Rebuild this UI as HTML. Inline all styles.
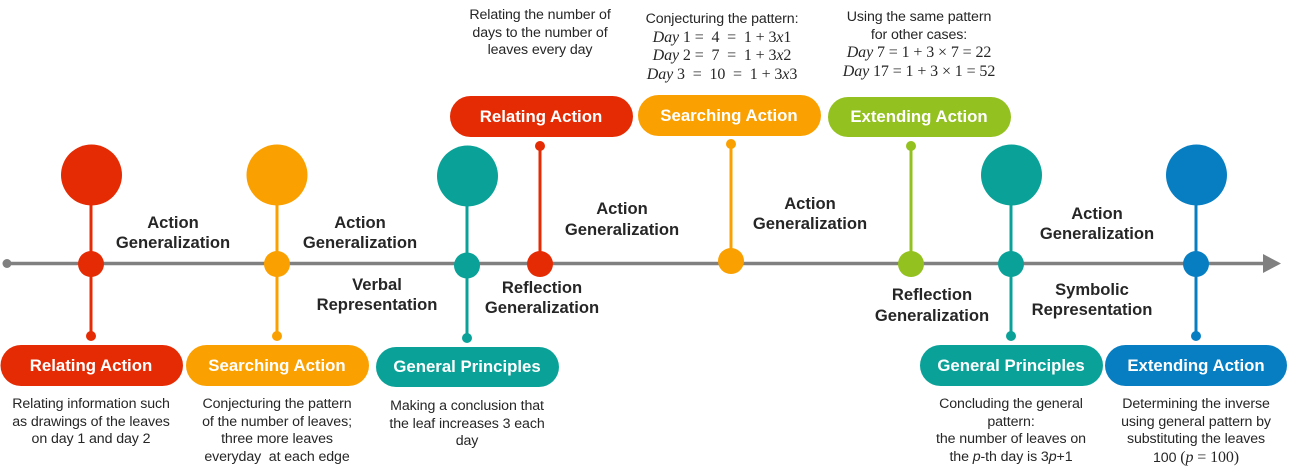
<!DOCTYPE html>
<html>
<head>
<meta charset="utf-8">
<style>
  html,body{margin:0;padding:0;background:#fff;}
  body{width:1299px;height:472px;position:relative;overflow:hidden;font-family:"Liberation Sans",Arial,sans-serif;}
  svg{position:absolute;left:0;top:0;}
  .t{position:absolute;text-align:center;white-space:nowrap;}
  .b{font-weight:bold;font-size:16.6px;line-height:20px;color:#262626;width:200px;}
  .d{font-size:14.2px;line-height:17.5px;color:#262626;width:200px;letter-spacing:-0.1px;}
  .p{font-weight:bold;font-size:16.8px;color:#fff;width:190px;line-height:41px;}
  .m{font-family:"Liberation Serif",serif;font-size:16px;}
  .m i{font-style:italic;}
</style>
</head>
<body>
<svg width="1299" height="472" viewBox="0 0 1299 472">
  <!-- timeline -->
  <line x1="7" y1="263.5" x2="1266" y2="263.5" stroke="#808080" stroke-width="3.5"/>
  <circle cx="7" cy="263.5" r="4.5" fill="#808080"/>
  <polygon points="1263,254 1281,263.5 1263,273" fill="#808080"/>

  <!-- 1 red below -->
  <line x1="91" y1="175" x2="91" y2="336" stroke="#E52B04" stroke-width="3"/>
  <circle cx="91.5" cy="175" r="30.5" fill="#E52B04"/>
  <circle cx="91" cy="264" r="13" fill="#E52B04"/>
  <circle cx="91" cy="336" r="5" fill="#E52B04"/>
  <rect x="0.5" y="345" width="182.5" height="41" rx="20.5" fill="#E52B04"/>

  <!-- 2 orange below -->
  <line x1="277" y1="175" x2="277" y2="336" stroke="#FAA000" stroke-width="3"/>
  <circle cx="277" cy="175" r="30.5" fill="#FAA000"/>
  <circle cx="277" cy="264" r="13" fill="#FAA000"/>
  <circle cx="277" cy="336" r="5" fill="#FAA000"/>
  <rect x="186" y="345" width="183" height="41" rx="20.5" fill="#FAA000"/>

  <!-- 3 teal below -->
  <line x1="467" y1="176" x2="467" y2="338" stroke="#0AA298" stroke-width="3"/>
  <circle cx="467.5" cy="176" r="30.5" fill="#0AA298"/>
  <circle cx="467" cy="265.5" r="13" fill="#0AA298"/>
  <circle cx="467" cy="338" r="5" fill="#0AA298"/>
  <rect x="376" y="347" width="183" height="40" rx="20" fill="#0AA298"/>

  <!-- 4 red above -->
  <line x1="540" y1="146" x2="540" y2="264" stroke="#E52B04" stroke-width="3"/>
  <circle cx="540" cy="146" r="5" fill="#E52B04"/>
  <circle cx="540" cy="264" r="13" fill="#E52B04"/>
  <rect x="450" y="96" width="183" height="41" rx="20.5" fill="#E52B04"/>

  <!-- 5 orange above -->
  <line x1="731" y1="144" x2="731" y2="261" stroke="#FAA000" stroke-width="3"/>
  <circle cx="731" cy="144" r="5" fill="#FAA000"/>
  <circle cx="731" cy="261" r="13" fill="#FAA000"/>
  <rect x="638" y="95" width="183" height="41" rx="20.5" fill="#FAA000"/>

  <!-- 6 green above -->
  <line x1="911" y1="146" x2="911" y2="264" stroke="#93C11F" stroke-width="3"/>
  <circle cx="911" cy="146" r="5" fill="#93C11F"/>
  <circle cx="911" cy="264" r="13" fill="#93C11F"/>
  <rect x="828" y="97" width="183" height="40" rx="20" fill="#93C11F"/>

  <!-- 7 teal below -->
  <line x1="1011" y1="175" x2="1011" y2="336" stroke="#0AA298" stroke-width="3"/>
  <circle cx="1011.5" cy="175" r="30.5" fill="#0AA298"/>
  <circle cx="1011" cy="264" r="13" fill="#0AA298"/>
  <circle cx="1011" cy="336" r="5" fill="#0AA298"/>
  <rect x="920" y="345" width="183" height="41" rx="20.5" fill="#0AA298"/>

  <!-- 8 blue below -->
  <line x1="1196" y1="175" x2="1196" y2="336" stroke="#087EC2" stroke-width="3"/>
  <circle cx="1196.5" cy="175" r="30.5" fill="#087EC2"/>
  <circle cx="1196" cy="264" r="13" fill="#087EC2"/>
  <circle cx="1196" cy="336" r="5" fill="#087EC2"/>
  <rect x="1105" y="345" width="182" height="41" rx="20.5" fill="#087EC2"/>
</svg>

<!-- pill labels -->
<div class="t p" style="left:-4px;top:345px;">Relating Action</div>
<div class="t p" style="left:182px;top:345px;">Searching Action</div>
<div class="t p" style="left:372px;top:347px;line-height:40px;">General Principles</div>
<div class="t p" style="left:446px;top:96px;">Relating Action</div>
<div class="t p" style="left:634px;top:95px;">Searching Action</div>
<div class="t p" style="left:824px;top:97px;line-height:40px;">Extending Action</div>
<div class="t p" style="left:916px;top:345px;">General Principles</div>
<div class="t p" style="left:1101px;top:345px;">Extending Action</div>

<!-- bold phase labels -->
<div class="t b" style="left:73px;top:213px;">Action<br>Generalization</div>
<div class="t b" style="left:260px;top:213px;">Action<br>Generalization</div>
<div class="t b" style="left:277px;top:275px;">Verbal<br>Representation</div>
<div class="t b" style="left:442px;top:278px;">Reflection<br>Generalization</div>
<div class="t b" style="left:522px;top:199px;line-height:20.5px;">Action<br>Generalization</div>
<div class="t b" style="left:710px;top:194px;">Action<br>Generalization</div>
<div class="t b" style="left:832px;top:285px;line-height:20.5px;">Reflection<br>Generalization</div>
<div class="t b" style="left:997px;top:204px;">Action<br>Generalization</div>
<div class="t b" style="left:992px;top:280px;">Symbolic<br>Representation</div>

<!-- descriptions below -->
<div class="t d" style="left:-9px;top:396px;">Relating information such<br>as drawings of the leaves<br>on day 1 and day 2</div>
<div class="t d" style="left:177px;top:396px;">Conjecturing the pattern<br>of the number of leaves;<br>three more leaves<br>everyday&nbsp; at each edge</div>
<div class="t d" style="left:367px;top:398px;">Making a conclusion that<br>the leaf increases 3 each<br>day</div>
<div class="t d" style="left:911px;top:396px;">Concluding the general<br>pattern:<br>the number of leaves on<br>the <i>p</i>-th day is 3<i>p</i>+1</div>
<div class="t d" style="left:1096px;top:396px;">Determining the inverse<br>using general pattern by<br>substituting the leaves<br>100 <span class="m">(<i>p</i> = 100)</span></div>

<!-- descriptions above -->
<div class="t d" style="left:440px;top:7px;">Relating the number of<br>days to the number of<br>leaves every day</div>
<div class="t d" style="left:622px;top:11px;line-height:17.6px;">Conjecturing the pattern:<br>
<span class="m"><i>Day</i> 1 = &nbsp;4 &nbsp;= &nbsp;1 + 3<i>x</i>1</span><br>
<span class="m"><i>Day</i> 2 = &nbsp;7 &nbsp;= &nbsp;1 + 3<i>x</i>2</span><br>
<span class="m"><i>Day</i> 3 &nbsp;= &nbsp;10 &nbsp;= &nbsp;1 + 3<i>x</i>3</span></div>
<div class="t d" style="left:819px;top:9px;line-height:17.7px;">Using the same pattern<br>for other cases:<br>
<span class="m"><i>Day</i> 7 = 1 + 3 × 7 = 22</span><br>
<span class="m"><i>Day</i> 17 = 1 + 3 × 1 = 52</span></div>
</body>
</html>
